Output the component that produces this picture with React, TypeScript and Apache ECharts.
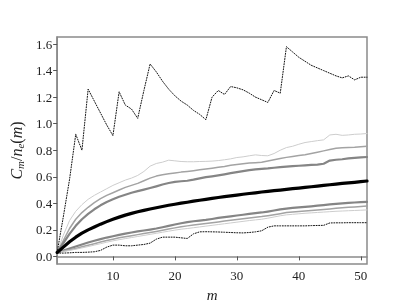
import React, { useEffect, useRef } from "react";
import * as echarts from "echarts";

const mValues: number[] = Array.from({ length: 51 }, (_, i) => i + 1);

const maxRatio = [
  0.03, 0.3, 0.58, 0.92, 0.8, 1.26, 1.17, 1.08, 0.99, 0.91,
  1.24, 1.14, 1.11, 1.04, 1.25, 1.45, 1.39, 1.32, 1.26, 1.21,
  1.17, 1.14, 1.1, 1.07, 1.03, 1.2, 1.25, 1.22, 1.28, 1.27,
  1.255, 1.23, 1.2, 1.18, 1.16, 1.25, 1.23, 1.58, 1.54, 1.5,
  1.47, 1.44, 1.42, 1.4, 1.38, 1.36, 1.345, 1.36, 1.33, 1.35, 1.35,
];

const p95 = [
  0.03, 0.16, 0.27, 0.34, 0.39, 0.43, 0.46, 0.485, 0.51, 0.535,
  0.555, 0.575, 0.59, 0.61, 0.64, 0.68, 0.7, 0.71, 0.725, 0.72,
  0.715, 0.713, 0.713, 0.715, 0.716, 0.718, 0.722, 0.728, 0.735, 0.745,
  0.75, 0.758, 0.765, 0.76, 0.758, 0.775, 0.8, 0.82, 0.83, 0.845,
  0.858, 0.865, 0.872, 0.878, 0.915, 0.92, 0.912, 0.915, 0.92, 0.922, 0.926,
];

const p90 = [
  0.03, 0.12, 0.21, 0.28, 0.33, 0.37, 0.405, 0.435, 0.46, 0.48,
  0.5, 0.52, 0.535, 0.55, 0.57, 0.59, 0.605, 0.615, 0.622, 0.628,
  0.635, 0.64, 0.646, 0.652, 0.658, 0.665, 0.672, 0.678, 0.686, 0.692,
  0.698, 0.703, 0.706, 0.709, 0.718, 0.728, 0.738, 0.746, 0.753, 0.76,
  0.766, 0.775, 0.785, 0.795, 0.805, 0.815, 0.818, 0.82, 0.822, 0.826, 0.829,
];

const p75 = [
  0.03, 0.1, 0.17, 0.23, 0.28, 0.32, 0.355, 0.385, 0.41, 0.43,
  0.45, 0.465, 0.48, 0.492, 0.503, 0.515, 0.528, 0.542, 0.553, 0.562,
  0.566, 0.57, 0.578, 0.588, 0.597, 0.603, 0.61, 0.618, 0.627, 0.635,
  0.643, 0.65, 0.655, 0.66, 0.663, 0.668, 0.672, 0.676, 0.68, 0.683,
  0.686, 0.689, 0.692, 0.698, 0.722, 0.728, 0.732, 0.738, 0.743, 0.746, 0.749,
];

const median = [
  0.03, 0.07, 0.11, 0.145, 0.175, 0.2, 0.222, 0.243, 0.262, 0.28,
  0.296, 0.311, 0.324, 0.336, 0.347, 0.357, 0.367, 0.376, 0.385, 0.393,
  0.401, 0.408, 0.416, 0.423, 0.43, 0.437, 0.444, 0.45, 0.456, 0.462,
  0.468, 0.474, 0.479, 0.485, 0.49, 0.495, 0.5, 0.505, 0.51, 0.515,
  0.52, 0.525, 0.53, 0.535, 0.54, 0.545, 0.55, 0.554, 0.558, 0.563, 0.568,
];

const p25 = [
  0.03, 0.045, 0.06, 0.075, 0.09, 0.105, 0.118, 0.13, 0.142, 0.152,
  0.162, 0.172, 0.18, 0.188, 0.195, 0.202, 0.21, 0.22, 0.23, 0.24,
  0.25, 0.258, 0.265, 0.27, 0.275, 0.282, 0.29, 0.296, 0.302, 0.308,
  0.314, 0.32, 0.326, 0.331, 0.338, 0.346, 0.354, 0.36, 0.365, 0.369,
  0.373, 0.377, 0.382, 0.387, 0.392, 0.396, 0.4, 0.403, 0.406, 0.409, 0.411,
];

const p10 = [
  0.03, 0.04, 0.05, 0.06, 0.072, 0.084, 0.096, 0.108, 0.12, 0.13,
  0.14, 0.148, 0.156, 0.164, 0.172, 0.18, 0.188, 0.197, 0.206, 0.215,
  0.223, 0.23, 0.236, 0.242, 0.248, 0.254, 0.26, 0.266, 0.272, 0.278,
  0.284, 0.29, 0.295, 0.3, 0.307, 0.314, 0.322, 0.33, 0.334, 0.338,
  0.342, 0.346, 0.35, 0.354, 0.358, 0.362, 0.366, 0.37, 0.373, 0.376, 0.379,
];

const p5 = [
  0.03, 0.037, 0.045, 0.054, 0.064, 0.074, 0.085, 0.096, 0.107, 0.117,
  0.126, 0.134, 0.142, 0.15, 0.158, 0.166, 0.174, 0.182, 0.19, 0.198,
  0.205, 0.21, 0.216, 0.222, 0.228, 0.234, 0.24, 0.246, 0.252, 0.258,
  0.264, 0.27, 0.275, 0.28, 0.288, 0.297, 0.306, 0.313, 0.317, 0.321,
  0.325, 0.328, 0.331, 0.334, 0.337, 0.34, 0.342, 0.344, 0.346, 0.348, 0.35,
];

const minRatio = [
  0.025, 0.025, 0.027, 0.03, 0.03, 0.032, 0.035, 0.045, 0.07, 0.085,
  0.085, 0.08, 0.08, 0.085, 0.09, 0.1, 0.13, 0.145, 0.145, 0.145,
  0.14, 0.135, 0.17, 0.185, 0.186, 0.185, 0.184, 0.182, 0.18, 0.178,
  0.177, 0.18, 0.185, 0.193, 0.22, 0.23, 0.23, 0.23, 0.23, 0.23,
  0.23, 0.232, 0.233, 0.234, 0.252, 0.253, 0.253, 0.254, 0.254, 0.254, 0.254,
];

const xTicks = [10, 20, 30, 40, 50];
const yTicks = [0, 0.2, 0.4, 0.6, 0.8, 1.0, 1.2, 1.4, 1.6];

const FONT = "Liberation Serif";

function pairs(vals: number[]) {
  return mValues.map((m, i) => [m, vals[i]]);
}

export default function App() {
  const ref = useRef<HTMLDivElement>(null);
  useEffect(() => {
    if (!ref.current) return;
    const chart = echarts.init(ref.current, undefined, { renderer: "svg" });
    const line = (
      name: string,
      vals: number[],
      color: string,
      width: number,
      type: any = "solid",
      z = 2
    ) => ({
      name,
      type: "line",
      data: pairs(vals),
      showSymbol: false,
      symbol: "none",
      z,
      lineStyle: { color, width, type, cap: "round", join: "round" },
    });
    const spine = "#8a8a8a";
    chart.setOption({
      animation: false,
      grid: {
        left: 51,
        right: 42,
        top: 37,
        bottom: 34,
        show: true,
        borderColor: spine,
        borderWidth: 1.5,
        backgroundColor: "transparent",
      },
      xAxis: {
        type: "value",
        min: 1,
        max: 51,
        name: "m",
        nameLocation: "middle",
        nameGap: 19,
        nameTextStyle: {
          fontFamily: FONT,
          fontStyle: "italic",
          fontSize: 15,
          color: "#222",
        },
        axisLine: { show: true, lineStyle: { color: spine, width: 1.5 } },
        axisTick: {
          show: true,
          customValues: xTicks,
          length: 4,
          inside: false,
          lineStyle: { color: "#555", width: 1 },
        },
        axisLabel: {
          customValues: xTicks,
          fontFamily: FONT,
          fontSize: 13,
          color: "#222",
          margin: 5,
        },
        splitLine: { show: false },
      },
      yAxis: {
        type: "value",
        min: -0.058,
        max: 1.653,
        name: "{i|C}{s|m}{r|/}{i|n}{s|e}{r|(}{i|m}{r|)}",
        nameLocation: "middle",
        nameRotate: 90,
        nameGap: 27,
        nameTextStyle: {
          rich: {
            i: {
              fontFamily: FONT,
              fontStyle: "italic",
              fontSize: 16,
              color: "#222",
              lineHeight: 18,
            },
            r: {
              fontFamily: FONT,
              fontSize: 16,
              color: "#222",
              lineHeight: 18,
            },
            s: {
              fontFamily: FONT,
              fontStyle: "italic",
              fontSize: 11,
              color: "#222",
              lineHeight: 18,
              verticalAlign: "bottom",
              padding: [6, 0, 0, 0],
            },
          },
        },
        axisLine: { show: true, lineStyle: { color: spine, width: 1.5 } },
        axisTick: {
          show: true,
          customValues: yTicks,
          length: 4,
          inside: false,
          lineStyle: { color: "#555", width: 1 },
        },
        axisLabel: {
          customValues: yTicks,
          formatter: (v: number) => v.toFixed(1),
          fontFamily: FONT,
          fontSize: 13,
          color: "#222",
          margin: 5,
        },
        splitLine: { show: false },
      },
      series: [
        line("max", maxRatio, "#111", 1, [1, 1.6], 3),
        line("p95", p95, "#cdcdcd", 1),
        line("p90", p90, "#a3a3a3", 1.5),
        line("p75", p75, "#858585", 2.2),
        line("median", median, "#000", 3.2, "solid", 4),
        line("p25", p25, "#858585", 2.2),
        line("p10", p10, "#a3a3a3", 1.5),
        line("p5", p5, "#cdcdcd", 1),
        line("min", minRatio, "#111", 1, [1, 1.6], 3),
      ],
    });
    return () => chart.dispose();
  }, []);
  return (
    <div
      ref={ref}
      style={{ position: "fixed", left: 0, top: 0, width: 409, height: 307 }}
    />
  );
}
